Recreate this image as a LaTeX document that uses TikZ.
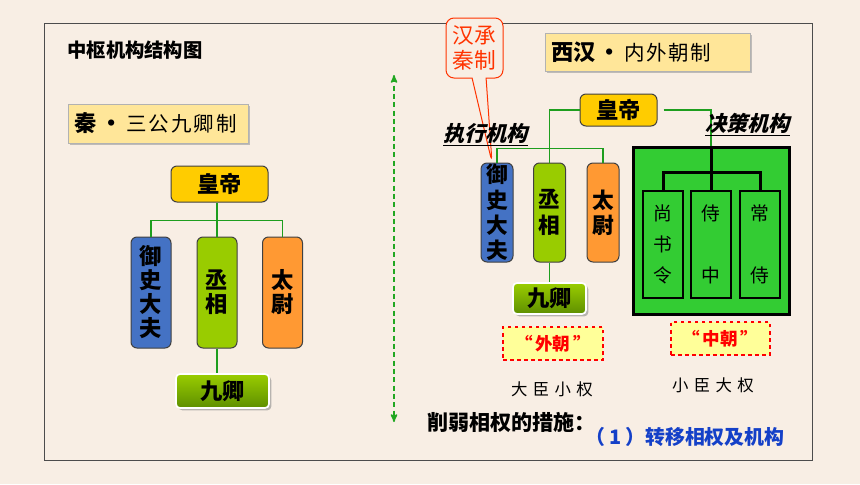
\documentclass[tikz,border=0pt]{standalone}
\usepackage{fontspec}
\setmainfont{Noto Sans CJK SC}
\newfontfamily\slantfont{Noto Sans CJK SC}[FakeSlant=0.25]
\usepackage{tikz}
\usetikzlibrary{arrows,shadows,shapes.callouts}
\definecolor{bg}{HTML}{F8EEE4}
\definecolor{huang}{HTML}{FFCC00}
\definecolor{lan}{HTML}{4472C4}
\definecolor{lv}{HTML}{99CC00}
\definecolor{cheng}{HTML}{FF9933}
\definecolor{plate}{HTML}{FFE699}
\definecolor{bigg}{HTML}{33CC33}
\definecolor{jqtop}{HTML}{9ACD00}
\definecolor{jqbot}{HTML}{5E8F00}
\definecolor{tagfill}{HTML}{FFFF99}
\definecolor{callred}{HTML}{FF3300}
\definecolor{linkg}{HTML}{1E9E1E}
\definecolor{zyblue}{HTML}{1440C8}
\tikzset{
  box/.style = {align=center, inner sep=0pt, rounded corners=1.8mm,
    draw=black!75, line width=0.3mm,
    font=\fontsize{19}{20.5}\selectfont\bfseries},
  emp/.style = {box, fill=huang},% emperor
  gong/.style = {box, minimum width=12mm, minimum height=33.3mm},% qin officials
  gongx/.style = {box, minimum width=9.6mm, minimum height=29.7mm,
    font=\fontsize{18.5}{21.7}\selectfont\bfseries},% han officials
  jq/.style = {box, draw=white, line width=0.5mm, rounded corners=1.2mm,
    top color=jqtop, bottom color=jqbot,
    drop shadow={shadow xshift=0.7mm, shadow yshift=-0.7mm, fill=black!45, opacity=0.6}},
  plt/.style = {draw=black!30, fill=plate, inner sep=0pt, anchor=west,
    drop shadow={shadow xshift=0.6mm, shadow yshift=-0.6mm, fill=black!40, opacity=0.6}},
  tag/.style = {draw=red, dashed, line width=0.4mm, fill=tagfill, text=red,
    inner sep=0pt, font=\fontsize{15}{15}\selectfont\bfseries},
  inbox/.style = {draw=black, line width=0.6mm, fill=bigg, align=center, inner sep=0pt,
    minimum width=12mm, minimum height=32.1mm, font=\fontsize{16}{26.4}\selectfont},
  link/.style = {draw=linkg, line width=0.45mm},
  blk/.style = {draw=black, line width=0.9mm}
}

\begin{document}
\begin{tikzpicture}[x=0.3mm,y=-0.3mm,>=stealth']
\fill[bg] (0,0) rectangle (860,484);
\useasboundingbox (0,0) rectangle (860,484);
\draw[black!70, line width=0.3mm] (44,23) rectangle (812,460);

\node[font=\fontsize{16.5}{16.5}\selectfont\bfseries] (title) at (135,50) {中枢机构结构图};

% Qin
\node[plt, minimum width=54mm, minimum height=11.7mm, text width=50mm] (qin) at (68,123.5)
  {\fontsize{19}{19}\selectfont\bfseries 秦\hspace{1mm}・\hspace{1mm}\fontsize{17.5}{17.5}\selectfont\mdseries 三\hspace{0.6mm}公\hspace{0.6mm}九\hspace{0.6mm}卿\hspace{0.6mm}制};
\node[emp, minimum width=29.1mm, minimum height=10.8mm] (emp1) at (219.5,184) {皇帝};
\node[gong, fill=lan] (yushi1) at (151,292.5) {御\\史\\大\\夫};
\node[gong, fill=lv] (cheng1) at (217,292.5) {丞\\相};
\node[gong, fill=cheng] (taiwei1) at (282.5,292.5) {太\\尉};
\node[jq, minimum width=27.9mm, minimum height=10.2mm] (jiuqing1) at (222.5,391) {九卿};
\draw[link] (yushi1.north) -- ++(0,-16) -| (taiwei1.north);
\draw[link] (cheng1.north) -- (cheng1.north |- emp1.south);
\draw[link] (cheng1.south) -- (cheng1.south |- jiuqing1.north);

% dividing arrow
\coordinate (up) at (394,75);
\coordinate (down) at (394,422);
\draw[<->, linkg!80!bigg, line width=0.45mm, dash pattern=on 1.5mm off 1mm] (up) -- (down);

% Western Han
\node[plt, minimum width=61.5mm, minimum height=11.4mm, text width=58mm] (xihan) at (545,52)
  {\fontsize{19}{19}\selectfont\bfseries 西汉\hspace{1mm}・\hspace{1mm}\fontsize{17.5}{17.5}\selectfont\mdseries 内\hspace{0.4mm}外\hspace{0.4mm}朝\hspace{0.4mm}制};
\node[gongx, fill=lan] (yushi2) at (497,212.5) {御\\史\\大\\夫};
\node[rectangle callout, draw=callred, fill=bg, line width=0.3mm, rounded corners=2.4mm,
  minimum width=17.1mm, minimum height=18mm, inner sep=0pt, align=center, text=callred,
  font=\fontsize{18.5}{21.3}\selectfont, callout pointer width=4.2mm,
  callout absolute pointer={([xshift=-1.5mm]yushi2.north)}] (hancheng) at (474.5,48) {汉承\\秦制};
\node[emp, minimum width=23.1mm, minimum height=9.6mm] (emp2) at (618.5,110) {皇帝};
\node[gongx, fill=lv] (cheng2) at (549.5,212.5) {丞\\相};
\node[gongx, fill=cheng] (taiwei2) at (603,212.5) {太\\尉};
\node[jq, minimum width=21.9mm, minimum height=9.3mm] (jiuqing2) at (549.5,298.5) {九卿};
\node[draw=black, line width=0.9mm, fill=bigg, minimum width=46.8mm, minimum height=50.1mm] (juece) at (711,230.5) {};
\node[inbox] (shangshu) at (663,244.5) {尚\\书\\令};
\node[inbox] (shizhong) at (711,244.5) {侍\\\mbox{}\\中};
\node[inbox] (changshi) at (760,244.5) {常\\\mbox{}\\侍};
\draw[link] (emp2.west) -| (cheng2.north);
\draw[link] (yushi2.north) -- ++(0,-14) -| (taiwei2.north);
\draw[link] (cheng2.south) -- (jiuqing2.north);
\draw[link] ([xshift=1.8mm]emp2.east) -| (juece.north);
\draw[blk] (juece.north) -- (shizhong.north);
\draw[blk] (shangshu.north) -- ++(0,-18) -| (changshi.north);

\node[font=\slantfont\fontsize{18}{18}\selectfont\bfseries] (zhixing) at (485.5,135) {\underline{执行机构}};
\node[font=\slantfont\fontsize{18}{18}\selectfont\bfseries] (juecelbl) at (747.5,125) {\underline{决策机构}};

\node[tag, minimum width=30mm, minimum height=9.9mm] (waichao) at (553,343.5) {“\hspace{0.8mm}外朝\hspace{0.8mm}”};
\node[tag, minimum width=29.7mm, minimum height=9.9mm] (zhongchao) at (720.5,338.5) {“\hspace{0.8mm}中朝\hspace{0.8mm}”};
\node[font=\fontsize{14}{14}\selectfont] (dachen) at (552,389) {大\hspace{1.6mm}臣\hspace{1.6mm}小\hspace{1.6mm}权};
\node[font=\fontsize{14}{14}\selectfont] (xiaochen) at (713,385) {小\hspace{1.6mm}臣\hspace{1.6mm}大\hspace{1.6mm}权};

\node[anchor=west, inner sep=0pt, font=\fontsize{18}{18}\selectfont\bfseries] (cuoshi) at (427,422) {削弱相权的措施：};
\node[anchor=west, inner sep=0pt, text=zyblue, font=\fontsize{17}{17}\selectfont\bfseries] (zhuanyi) at (585,437) {（\hspace{1.2mm}1\hspace{1.2mm}）转移相权及机构};
\end{tikzpicture}
\end{document}
